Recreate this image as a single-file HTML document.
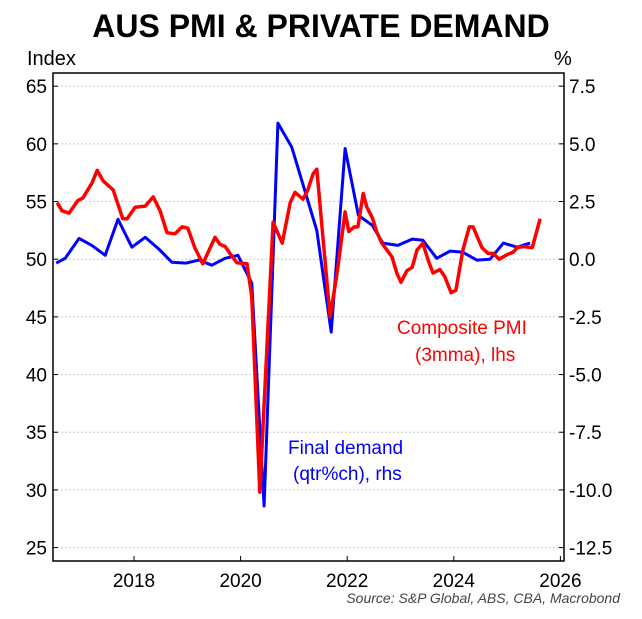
<!DOCTYPE html>
<html><head><meta charset="utf-8"><style>
body{margin:0;background:#fff}
svg{display:block;font-family:"Liberation Sans",sans-serif}
</style></head><body>
<svg id="chart" width="642" height="619">
<text x="321" y="37" text-anchor="middle" font-size="32" font-weight="bold">AUS PMI &amp; PRIVATE DEMAND</text>
<text x="27" y="65" font-size="20">Index</text>
<text x="554" y="65" font-size="20">%</text>
<g id="grid"></g>
<g id="series"></g>
<rect x="53" y="73" width="511" height="488" fill="none" stroke="#000" stroke-width="1.5"/>
<g id="axes"></g>
<text x="397" y="334" font-size="19" fill="#f00">Composite PMI</text>
<text x="415" y="361" font-size="19" fill="#f00">(3mma), lhs</text>
<text x="288" y="454" font-size="19" fill="#00f">Final demand</text>
<text x="293" y="480" font-size="19" fill="#00f">(qtr%ch), rhs</text>
<text x="620" y="603" text-anchor="end" font-size="14" font-style="italic" fill="#444">Source: S&amp;P Global, ABS, CBA, Macrobond</text>
</svg>
<script>
const leftTicks=[25,30,35,40,45,50,55,60,65];
const rightTicks=["-12.5","-10.0","-7.5","-5.0","-2.5","0.0","2.5","5.0","7.5"];
const xTicks=[2018,2020,2022,2024,2026];
const demandDates=[2016.54,2016.71,2016.97,2017.21,2017.46,2017.70,2017.96,2018.21,2018.47,2018.71,2018.98,2019.22,2019.46,2019.71,2019.95,2020.21,2020.44,2020.70,2020.96,2021.43,2021.70,2021.96,2022.21,2022.47,2022.67,2022.95,2023.22,2023.42,2023.68,2023.93,2024.17,2024.43,2024.68,2024.93,2025.19,2025.43];
const demandValues=[-0.17,0.04,0.9,0.6,0.17,1.73,0.52,0.95,0.43,-0.13,-0.17,-0.04,-0.26,0.04,0.17,-1.04,-10.7,5.9,4.85,1.25,-3.16,4.8,1.9,1.47,0.7,0.6,0.87,0.82,0.04,0.35,0.3,-0.04,0,0.7,0.52,0.7];
const pmiDates=[2016.56,2016.65,2016.78,2016.95,2017.04,2017.21,2017.31,2017.42,2017.61,2017.79,2017.87,2018.02,2018.21,2018.36,2018.49,2018.62,2018.77,2018.90,2019.01,2019.14,2019.29,2019.52,2019.61,2019.71,2019.80,2019.93,2020.12,2020.21,2020.36,2020.61,2020.78,2020.93,2021.02,2021.17,2021.26,2021.36,2021.43,2021.68,2021.81,2021.96,2022.03,2022.13,2022.20,2022.30,2022.37,2022.47,2022.56,2022.65,2022.84,2022.93,2023.01,2023.12,2023.22,2023.31,2023.42,2023.52,2023.61,2023.74,2023.83,2023.95,2024.04,2024.17,2024.29,2024.36,2024.53,2024.64,2024.74,2024.85,2025.00,2025.11,2025.19,2025.30,2025.47,2025.52,2025.62];
const pmiValues=[54.9,54.2,54.0,55.1,55.3,56.6,57.7,56.8,56.0,53.5,53.5,54.5,54.6,55.4,54.2,52.3,52.2,52.8,52.7,51.0,49.6,51.9,51.3,51.1,50.5,49.7,49.6,46.7,29.8,53.2,51.4,54.9,55.8,55.2,56.0,57.4,57.8,45.0,48.8,54.1,52.4,52.8,52.8,55.7,54.5,53.6,52.3,51.4,50.2,48.8,48.0,49.0,49.3,50.8,51.4,49.9,48.8,49.1,48.5,47.1,47.3,50.8,52.8,52.8,51.0,50.5,50.5,50.0,50.4,50.6,51.0,51.1,51.0,51.8,53.5];
const NS="http://www.w3.org/2000/svg";
function xs(y){return 134+(y-2018)*53.3;}
function yl(v){return 259.2-(v-50)*11.535;}
function yr(v){return 259.2-v*23.07;}
function mk(tag,attrs,parent){const e=document.createElementNS(NS,tag);for(const k in attrs)e.setAttribute(k,attrs[k]);document.getElementById(parent).appendChild(e);return e;}
leftTicks.forEach((t,i)=>{
  const y=yl(t);
  const g=mk('line',{x1:53,x2:564,y1:y,y2:y,stroke:'#ccc','stroke-dasharray':'2,2'},'grid');
  
  
  const tl=mk('line',{x1:53,x2:58,y1:y,y2:y,stroke:'#000'},'axes');
  
  
  const tr=mk('line',{x1:559,x2:564,y1:y,y2:y,stroke:'#000'},'axes');
  
  
  const lt=mk('text',{x:47,y:y+7,'text-anchor':'end','font-size':19},'axes');lt.textContent=t;
  
  
  const rt=mk('text',{x:569,y:y+7,'font-size':19},'axes');rt.textContent=rightTicks[i];
  
  
});
xTicks.forEach(t=>{
  const x=xs(t);
  const tk=mk('line',{x1:x,x2:x,y1:556,y2:561,stroke:'#000'},'axes');
  
  
  const tx=mk('text',{x:x,y:587,'text-anchor':'middle','font-size':19},'axes');tx.textContent=t;
  
  
});
const dpts=demandDates.map((d,i)=>xs(d).toFixed(1)+','+yr(demandValues[i]).toFixed(1)).join(' ');
const dl=mk('polyline',{points:dpts,fill:'none',stroke:'#00f','stroke-width':3,'stroke-linejoin':'round'},'series');


const ppts=pmiDates.map((d,i)=>xs(d).toFixed(1)+','+yl(pmiValues[i]).toFixed(1)).join(' ');
const pl=mk('polyline',{points:ppts,fill:'none',stroke:'#f00','stroke-width':3.5,'stroke-linejoin':'round'},'series');


</script>
</body></html>
